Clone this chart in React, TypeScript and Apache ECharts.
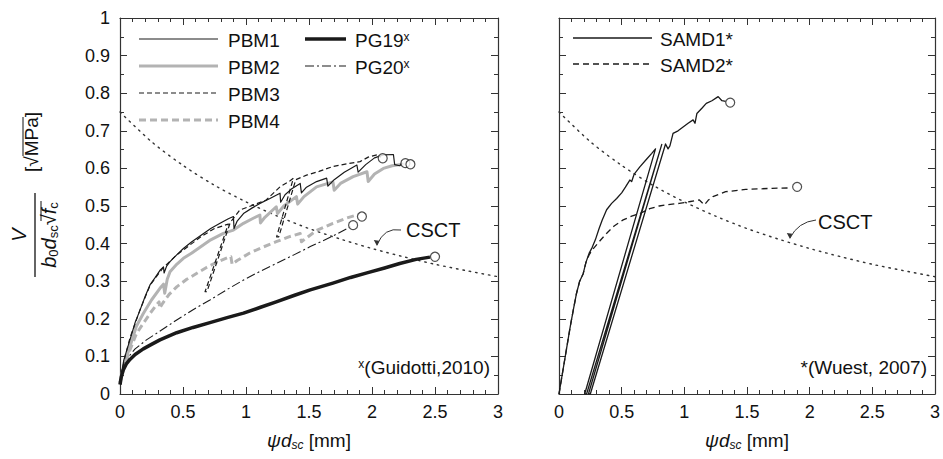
import React, { useEffect, useRef } from "react";
import * as echarts from "echarts";

// ---- Data (x = psi*d_sc [mm], y = V/(b0 d_sc sqrt(fc)) [sqrt(MPa)]) ----
const pbm1: number[][] = [
  [0, 0.03], [0.03, 0.09], [0.079, 0.144], [0.12, 0.19], [0.159, 0.223], [0.2, 0.26], [0.238, 0.29],
  [0.28, 0.31], [0.32, 0.33], [0.345, 0.338], [0.35, 0.322], [0.37, 0.34], [0.397, 0.352], [0.45, 0.37],
  [0.503, 0.387], [0.57, 0.405], [0.635, 0.42], [0.72, 0.44], [0.794, 0.454], [0.86, 0.466], [0.9, 0.472],
  [0.905, 0.44], [0.93, 0.46], [0.98, 0.48], [1.05, 0.495], [1.111, 0.507], [1.19, 0.52], [1.27, 0.534],
  [1.275, 0.51], [1.31, 0.53], [1.36, 0.545], [1.43, 0.56], [1.44, 0.535], [1.48, 0.55], [1.56, 0.565],
  [1.64, 0.574], [1.65, 0.553], [1.7, 0.57], [1.78, 0.59], [1.88, 0.609], [1.89, 0.59], [1.95, 0.61],
  [2.02, 0.628], [2.09, 0.636], [2.17, 0.637], [2.18, 0.61], [2.22, 0.607], [2.24, 0.615],
];
const pbm2: number[][] = [
  [0, 0.03], [0.03, 0.075], [0.079, 0.126], [0.13, 0.18], [0.185, 0.214], [0.25, 0.25], [0.317, 0.281],
  [0.345, 0.292], [0.355, 0.268], [0.375, 0.305], [0.397, 0.325], [0.45, 0.345], [0.503, 0.361],
  [0.57, 0.375], [0.635, 0.39], [0.72, 0.41], [0.82, 0.427], [0.9, 0.436], [0.98, 0.454], [1.05, 0.466],
  [1.11, 0.476], [1.115, 0.455], [1.15, 0.47], [1.24, 0.498], [1.25, 0.48], [1.3, 0.5], [1.4, 0.525],
  [1.41, 0.505], [1.46, 0.525], [1.56, 0.551], [1.69, 0.564], [1.7, 0.542], [1.75, 0.56], [1.85, 0.578],
  [1.96, 0.591], [1.97, 0.565], [2.02, 0.585], [2.09, 0.6], [2.16, 0.607], [2.26, 0.612],
];
const pbm3: number[][] = [
  [0, 0.03], [0.04, 0.1], [0.08, 0.15], [0.16, 0.225], [0.24, 0.29], [0.34, 0.335], [0.45, 0.37],
  [0.55, 0.395], [0.65, 0.42], [0.75, 0.44], [0.86, 0.452], [0.675, 0.272], [0.69, 0.272], [0.875, 0.456],
  [0.95, 0.489], [1.06, 0.503], [1.16, 0.516], [1.27, 0.551], [1.35, 0.567], [1.376, 0.574], [1.243, 0.418],
  [1.26, 0.418], [1.395, 0.57], [1.48, 0.582], [1.58, 0.592], [1.69, 0.605], [1.8, 0.612], [1.905, 0.618],
  [1.97, 0.63], [2.04, 0.636], [2.07, 0.63],
];
const pbm4: number[][] = [
  [0, 0.03], [0.03, 0.07], [0.079, 0.117], [0.13, 0.16], [0.185, 0.188], [0.24, 0.215], [0.29, 0.237],
  [0.31, 0.245], [0.315, 0.228], [0.34, 0.242], [0.39, 0.265], [0.45, 0.285], [0.53, 0.305], [0.61, 0.321],
  [0.69, 0.337], [0.767, 0.35], [0.85, 0.362], [0.88, 0.365], [0.89, 0.345], [0.93, 0.355], [1.03, 0.375],
  [1.13, 0.39], [1.24, 0.405], [1.34, 0.418], [1.43, 0.427], [1.44, 0.405], [1.48, 0.415], [1.56, 0.435],
  [1.69, 0.454], [1.8, 0.468], [1.88, 0.476],
];
const pg19: number[][] = [
  [0, 0.025], [0.01, 0.045], [0.026, 0.064], [0.05, 0.08], [0.079, 0.092], [0.12, 0.105], [0.185, 0.12],
  [0.25, 0.132], [0.317, 0.144], [0.45, 0.163], [0.58, 0.177], [0.714, 0.19], [0.85, 0.203], [0.98, 0.215],
  [1.11, 0.23], [1.24, 0.245], [1.38, 0.262], [1.51, 0.277], [1.69, 0.295], [1.83, 0.31], [1.96, 0.322],
  [2.1, 0.335], [2.22, 0.347], [2.35, 0.358], [2.46, 0.364],
];
const pg20: number[][] = [
  [0, 0.03], [0.03, 0.07], [0.07, 0.1], [0.12, 0.12], [0.21, 0.144], [0.33, 0.17], [0.45, 0.197],
  [0.58, 0.224], [0.714, 0.25], [0.85, 0.278], [0.98, 0.303], [1.11, 0.326], [1.24, 0.347], [1.38, 0.37],
  [1.51, 0.392], [1.69, 0.42], [1.83, 0.445],
];
const leftEnds: number[][] = [
  [2.085, 0.627], [2.265, 0.614], [2.305, 0.611], [1.92, 0.472], [1.85, 0.449], [2.5, 0.365],
];

const samd1: number[][] = [
  [0, 0], [0.03, 0.06], [0.05, 0.1], [0.07, 0.14], [0.09, 0.18], [0.115, 0.225], [0.14, 0.268],
  [0.165, 0.3], [0.193, 0.32], [0.215, 0.35], [0.24, 0.374], [0.265, 0.39], [0.29, 0.41], [0.32, 0.44],
  [0.345, 0.463], [0.38, 0.49], [0.42, 0.507], [0.46, 0.52], [0.5, 0.535], [0.53, 0.55], [0.565, 0.569],
  [0.58, 0.565], [0.6, 0.585], [0.645, 0.604], [0.7, 0.625], [0.74, 0.64], [0.77, 0.652], [0.205, 0],
  [0.22, 0], [0.82, 0.664], [0.235, 0], [0.25, 0], [0.85, 0.665], [0.87, 0.652], [0.885, 0.66],
  [0.91, 0.693], [0.95, 0.7], [0.99, 0.71], [1.03, 0.72], [1.07, 0.729], [1.085, 0.72], [1.1, 0.746],
  [1.14, 0.76], [1.175, 0.773], [1.22, 0.78], [1.27, 0.791], [1.3, 0.78], [1.33, 0.778],
];
const samd2: number[][] = [
  [0, 0], [0.03, 0.06], [0.05, 0.1], [0.07, 0.14], [0.09, 0.18], [0.115, 0.225], [0.14, 0.268],
  [0.165, 0.3], [0.193, 0.32], [0.215, 0.35], [0.24, 0.37], [0.27, 0.385], [0.32, 0.405], [0.379, 0.427],
  [0.44, 0.447], [0.512, 0.463], [0.58, 0.473], [0.645, 0.48], [0.724, 0.493], [0.8, 0.5], [0.857, 0.503],
  [0.96, 0.507], [1.05, 0.512], [1.12, 0.516], [1.16, 0.503], [1.19, 0.515], [1.228, 0.525], [1.33, 0.538],
  [1.49, 0.544], [1.7, 0.547], [1.84, 0.548],
];
const rightEnds: number[][] = [
  [1.366, 0.775], [1.9, 0.551],
];

const csct: number[][] = [
  [0, 0.75], [0.25, 0.671], [0.5, 0.608], [0.75, 0.555], [1, 0.511], [1.25, 0.473], [1.5, 0.44],
  [1.75, 0.412], [2, 0.387], [2.25, 0.365], [2.5, 0.345], [2.75, 0.328], [3, 0.312],
];

const leftLegend = ["PBM1", "PBM2", "PBM3", "PBM4"];
const leftLegend2 = ["PG19", "PG20"];
const rightLegend = ["SAMD1*", "SAMD2*"];

// ---- Styles ----
const FONT = "'Liberation Sans', Arial, Helvetica, sans-serif";
const BLACK = "#1a1a1a";
const GRAY = "#b3b3b3";

const styles: Record<string, { color: string; width: number; type: any }> = {
  PBM1: { color: BLACK, width: 1.2, type: "solid" },
  PBM2: { color: GRAY, width: 3, type: "solid" },
  PBM3: { color: BLACK, width: 1.2, type: [5, 3] },
  PBM4: { color: GRAY, width: 3, type: [7, 4] },
  PG19: { color: BLACK, width: 3.5, type: "solid" },
  PG20: { color: BLACK, width: 1.1, type: [9, 3, 2, 3] },
  "SAMD1*": { color: BLACK, width: 1.3, type: "solid" },
  "SAMD2*": { color: BLACK, width: 1.3, type: [6, 4] },
};

function xAx(grid: number, top: boolean) {
  return {
    type: "value",
    gridIndex: grid,
    position: top ? "top" : "bottom",
    min: 0,
    max: 3,
    interval: 0.5,
    axisLine: { show: true, onZero: false, lineStyle: { color: "#333", width: 1.2 } },
    axisTick: { show: true, inside: true, length: 7, lineStyle: { color: "#333", width: 1 } },
    minorTick: { show: true, splitNumber: 5, length: 4, lineStyle: { color: "#333", width: 1 } },
    axisLabel: { show: !top, color: "#111", fontSize: 18, fontFamily: FONT, margin: 9 },
    splitLine: { show: false },
  };
}
function yAx(grid: number, right: boolean, labels: boolean) {
  return {
    type: "value",
    gridIndex: grid,
    position: right ? "right" : "left",
    min: 0,
    max: 1,
    interval: 0.1,
    axisLine: { show: true, onZero: false, lineStyle: { color: "#333", width: 1.2 } },
    axisTick: { show: true, inside: true, length: 7, lineStyle: { color: "#333", width: 1 } },
    minorTick: { show: true, splitNumber: 2, length: 4, lineStyle: { color: "#333", width: 1 } },
    axisLabel: { show: labels && !right, color: "#111", fontSize: 18, fontFamily: FONT, margin: 10 },
    splitLine: { show: false },
  };
}

function lineSeries(name: string, data: number[][], axis: number) {
  const s = styles[name];
  return {
    name,
    type: "line",
    data,
    xAxisIndex: axis,
    yAxisIndex: axis,
    symbol: "none",
    showSymbol: false,
    silent: true,
    lineStyle: { color: s.color, width: s.width, type: s.type, cap: "butt", join: "round" },
  };
}

function legendItems(names: string[], x1: number, x2: number, tx: number, ys: number[], sup: string) {
  const out: any[] = [];
  names.forEach((n, i) => {
    const s = styles[n];
    out.push({
      type: "line",
      shape: { x1, y1: ys[i], x2, y2: ys[i] },
      style: { stroke: s.color, lineWidth: s.width, lineDash: s.type === "solid" ? null : s.type },
      silent: true,
    });
    out.push({
      type: "text",
      x: tx,
      y: ys[i] + 1,
      style: {
        text: sup ? `${n}{sup|${sup}}` : n,
        fontFamily: FONT,
        fontSize: 19,
        fill: "#111",
        verticalAlign: "middle",
        rich: { sup: { fontSize: 12, fontFamily: FONT, verticalAlign: "top", lineHeight: 10, fill: "#111" } },
      },
      silent: true,
    });
  });
  return out;
}

const xNameRich = {
  i: { fontStyle: "italic", fontSize: 19, fontFamily: FONT, fill: "#111", lineHeight: 22 },
  s: { fontStyle: "italic", fontSize: 12, fontFamily: FONT, fill: "#111", lineHeight: 4, verticalAlign: "bottom" },
  n: { fontSize: 19, fontFamily: FONT, fill: "#111", lineHeight: 22 },
};

function csctLabel(tx: number, ty: number, sx: number, sy: number, cx: number, cy: number, ex: number, ey: number) {
  return [
    {
      type: "text",
      x: tx,
      y: ty,
      style: { text: "CSCT", fontFamily: FONT, fontSize: 20, fill: "#111", verticalAlign: "middle" },
      silent: true,
    },
    {
      type: "bezierCurve",
      shape: { x1: sx, y1: sy, x2: ex, y2: ey, cpx1: cx, cpy1: cy },
      style: { stroke: "#333", lineWidth: 1, fill: null },
      silent: true,
    },
    {
      type: "polygon",
      shape: { points: [[ex, ey + 1], [ex - 3.2, ey - 5], [ex + 2.2, ey - 4.2]] },
      style: { fill: "#333" },
      silent: true,
    },
  ];
}

export default function App() {
  const ref = useRef<HTMLDivElement>(null);
  useEffect(() => {
    if (!ref.current) return;
    const chart = echarts.init(ref.current, null, { renderer: "svg" });
    const dotted = { color: "#333", width: 1.4, type: [1.5, 5], cap: "round" };
    const option: any = {
      animation: false,
      backgroundColor: "#fff",
      grid: [
        { left: 120, top: 18, width: 378, height: 376 },
        { left: 559, top: 18, width: 377, height: 376 },
      ],
      xAxis: [xAx(0, false), xAx(0, true), xAx(1, false), xAx(1, true)],
      yAxis: [yAx(0, false, true), yAx(0, true, false), yAx(1, false, false), yAx(1, true, false)],
      series: [
        { name: "CSCT", type: "line", data: csct, xAxisIndex: 0, yAxisIndex: 0, symbol: "none", silent: true, smooth: 0.3, lineStyle: dotted },
        lineSeries("PG20", pg20, 0),
        lineSeries("PBM4", pbm4, 0),
        lineSeries("PBM2", pbm2, 0),
        lineSeries("PBM3", pbm3, 0),
        lineSeries("PBM1", pbm1, 0),
        lineSeries("PG19", pg19, 0),
        {
          name: "ends-left", type: "scatter", data: leftEnds, xAxisIndex: 0, yAxisIndex: 0,
          symbol: "circle", symbolSize: 9, silent: true,
          itemStyle: { color: "#fff", borderColor: "#222", borderWidth: 1.2 }, z: 5,
        },
        { name: "CSCT-r", type: "line", data: csct, xAxisIndex: 2, yAxisIndex: 2, symbol: "none", silent: true, smooth: 0.3, lineStyle: dotted },
        lineSeries("SAMD2*", samd2, 2),
        lineSeries("SAMD1*", samd1, 2),
        {
          name: "ends-right", type: "scatter", data: rightEnds, xAxisIndex: 2, yAxisIndex: 2,
          symbol: "circle", symbolSize: 9, silent: true,
          itemStyle: { color: "#fff", borderColor: "#222", borderWidth: 1.2 }, z: 5,
        },
      ],
      graphic: [
        ...legendItems(leftLegend, 139, 218, 228, [39, 66, 93, 120], ""),
        ...legendItems(leftLegend2, 305, 346, 355, [39, 66], "x"),
        ...legendItems(rightLegend, 573, 652, 660, [38, 64], ""),
        ...csctLabel(406, 230, 401, 230, 384, 227, 377, 245),
        ...csctLabel(818, 222, 816, 220, 798, 222, 790, 238),
        {
          type: "text", x: 490, y: 367, silent: true,
          style: {
            text: "{sup|x}(Guidotti,2010)", fontFamily: FONT, fontSize: 19, fill: "#111",
            align: "right", verticalAlign: "middle",
            rich: { sup: { fontSize: 12, fontFamily: FONT, verticalAlign: "top", lineHeight: 10, fill: "#111" } },
          },
        },
        {
          type: "text", x: 927, y: 367, silent: true,
          style: { text: "*(Wuest, 2007)", fontFamily: FONT, fontSize: 19, fill: "#111", align: "right", verticalAlign: "middle" },
        },
        {
          type: "text", x: 309, y: 440, silent: true,
          style: { text: "{i|ψd}{s|sc}{n| [mm]}", align: "center", verticalAlign: "middle", rich: xNameRich },
        },
        {
          type: "text", x: 747, y: 440, silent: true,
          style: { text: "{i|ψd}{s|sc}{n| [mm]}", align: "center", verticalAlign: "middle", rich: xNameRich },
        },
        {
          type: "group", x: 35, y: 235, rotation: Math.PI / 2, silent: true,
          children: [
            { type: "line", shape: { x1: -42, y1: 0, x2: 42, y2: 0 }, style: { stroke: "#111", lineWidth: 1.3 } },
            {
              type: "text", x: 0, y: -6,
              style: { text: "V", fontFamily: FONT, fontStyle: "italic", fontSize: 20, fill: "#111", align: "center", verticalAlign: "bottom" },
            },
            {
              type: "text", x: 0, y: 3,
              style: {
                text: "{i|b}{s|0}{i|d}{s|sc}{n|√}{i|f}{s|c}",
                align: "center", verticalAlign: "top",
                rich: {
                  i: { fontStyle: "italic", fontSize: 20, fontFamily: FONT, fill: "#111", lineHeight: 22 },
                  s: { fontSize: 13, fontFamily: FONT, fill: "#111", lineHeight: 4, verticalAlign: "bottom" },
                  n: { fontSize: 20, fontFamily: FONT, fill: "#111", lineHeight: 22 },
                },
              },
            },
            { type: "line", shape: { x1: 14, y1: 6, x2: 34, y2: 6 }, style: { stroke: "#111", lineWidth: 1 } },
            {
              type: "text", x: 93, y: -4,
              style: { text: "[√MPa]", fontFamily: FONT, fontSize: 19, fill: "#111", align: "center", verticalAlign: "middle" },
            },
            { type: "line", shape: { x1: 79, y1: -12, x2: 118, y2: -12 }, style: { stroke: "#111", lineWidth: 1 } },
          ],
        },
      ],
    };
    chart.setOption(option);
    return () => chart.dispose();
  }, []);
  return (
    <div
      ref={ref}
      style={{ position: "absolute", left: 0, top: 0, width: 943, height: 459, background: "#fff" }}
    />
  );
}
